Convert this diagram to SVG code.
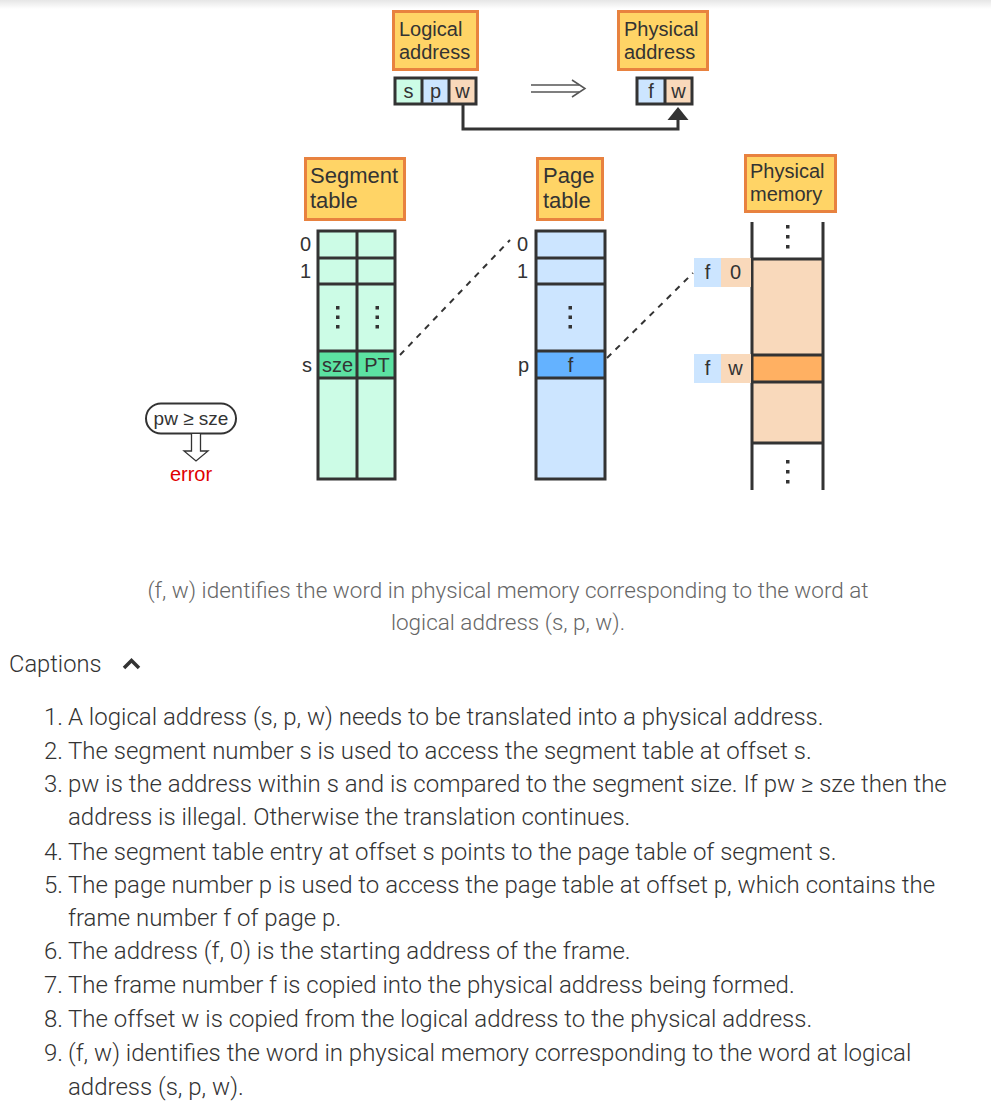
<svg xmlns="http://www.w3.org/2000/svg" width="991" height="1105" viewBox="0 0 991 1105">
<style>
.lbl{fill:#FFD466;stroke:#E8823F;stroke-width:3}
.t{font-family:"Liberation Sans",Arial,sans-serif;fill:#333}
.t20{font-size:20px}
.t22{font-size:22px}
.cell{stroke:#333;stroke-width:3}
.ln{stroke:#333;stroke-width:3;fill:none}
.dash{stroke:#333;stroke-width:2;stroke-dasharray:6 6;fill:none}
.dot{fill:#333}
.cap{font-family:Roboto,"Liberation Sans",sans-serif;font-weight:300;font-size:22.5px;fill:#666}
.li{font-family:Roboto,"Liberation Sans",sans-serif;font-weight:300;font-size:24px;fill:#333}
</style>
<defs>
<linearGradient id="sh" x1="0" y1="0" x2="0" y2="1">
<stop offset="0" stop-color="#e6e6e6"/>
<stop offset="1" stop-color="#ffffff"/>
</linearGradient>
</defs>
<rect x="0" y="0" width="991" height="1105" fill="#fff"/>
<rect x="0" y="0" width="991" height="9" fill="url(#sh)"/>

<g id="logical-address">
<rect class="lbl" x="393.5" y="11.5" width="84" height="58"/>
<text class="t t20" x="399" y="36">Logical</text>
<text class="t t20" x="399" y="59">address</text>
<rect x="395" y="78" width="27" height="26" fill="#CCFCE6"/>
<rect x="422" y="78" width="27" height="26" fill="#CCE5FF"/>
<rect x="449" y="78" width="27" height="26" fill="#F9D9BB"/>
<rect x="395" y="78" width="81" height="26" fill="none" class="cell"/>
<line x1="422" y1="78" x2="422" y2="104" class="cell"/>
<line x1="449" y1="78" x2="449" y2="104" class="cell"/>
<text class="t t20" x="408.5" y="98" text-anchor="middle">s</text>
<text class="t t20" x="435.5" y="98" text-anchor="middle">p</text>
<text class="t t20" x="462.5" y="98" text-anchor="middle">w</text>
</g>

<g id="physical-address">
<rect class="lbl" x="618.5" y="11.5" width="89" height="58"/>
<text class="t t20" x="624" y="36">Physical</text>
<text class="t t20" x="624" y="59">address</text>
<rect x="637" y="78" width="28" height="26" fill="#CCE5FF"/>
<rect x="665" y="78" width="27" height="26" fill="#F9D9BB"/>
<rect x="637" y="78" width="55" height="26" fill="none" class="cell"/>
<line x1="665" y1="78" x2="665" y2="104" class="cell"/>
<text class="t t20" x="651" y="98" text-anchor="middle">f</text>
<text class="t t20" x="678.5" y="98" text-anchor="middle">w</text>
</g>

<g id="segment-table">
<rect class="lbl" x="305.5" y="158.5" width="99" height="61"/>
<text class="t t22" x="310" y="183">Segment</text>
<text class="t t22" x="310" y="208">table</text>
<rect x="318" y="231" width="77" height="248" fill="#CCFCE6"/>
<rect x="318" y="351" width="77" height="27" fill="#5CE2A2"/>
<rect x="318" y="231" width="77" height="248" fill="none" class="cell"/>
<line x1="357" y1="231" x2="357" y2="479" class="cell"/>
<line x1="318" y1="258" x2="395" y2="258" class="cell"/>
<line x1="318" y1="284" x2="395" y2="284" class="cell"/>
<line x1="318" y1="351" x2="395" y2="351" class="cell"/>
<line x1="318" y1="378" x2="395" y2="378" class="cell"/>
<rect class="dot" x="336" y="306" width="3.5" height="3.5"/>
<rect class="dot" x="336" y="315.5" width="3.5" height="3.5"/>
<rect class="dot" x="336" y="325" width="3.5" height="3.5"/>
<rect class="dot" x="375.5" y="306" width="3.5" height="3.5"/>
<rect class="dot" x="375.5" y="315.5" width="3.5" height="3.5"/>
<rect class="dot" x="375.5" y="325" width="3.5" height="3.5"/>
<text class="t t20" x="311" y="251" text-anchor="end">0</text>
<text class="t t20" x="311" y="278" text-anchor="end">1</text>
<text class="t t20" x="312" y="372" text-anchor="end">s</text>
<text class="t t20" x="337.5" y="372" text-anchor="middle">sze</text>
<text class="t t20" x="377" y="372" text-anchor="middle">PT</text>
</g>

<g id="page-table">
<rect class="lbl" x="537.5" y="158.5" width="65" height="61"/>
<text class="t t22" x="543" y="183">Page</text>
<text class="t t22" x="543" y="208">table</text>
<rect x="536" y="231" width="69" height="248" fill="#CCE5FF"/>
<rect x="536" y="351" width="69" height="27" fill="#64B2FF"/>
<rect x="536" y="231" width="69" height="248" fill="none" class="cell"/>
<line x1="536" y1="258" x2="605" y2="258" class="cell"/>
<line x1="536" y1="284" x2="605" y2="284" class="cell"/>
<line x1="536" y1="351" x2="605" y2="351" class="cell"/>
<line x1="536" y1="378" x2="605" y2="378" class="cell"/>
<rect class="dot" x="568.5" y="306" width="3.5" height="3.5"/>
<rect class="dot" x="568.5" y="315.5" width="3.5" height="3.5"/>
<rect class="dot" x="568.5" y="325" width="3.5" height="3.5"/>
<text class="t t20" x="528" y="251" text-anchor="end">0</text>
<text class="t t20" x="528" y="278" text-anchor="end">1</text>
<text class="t t20" x="529" y="372" text-anchor="end">p</text>
<text class="t t20" x="570.5" y="372" text-anchor="middle">f</text>
</g>

<g id="physical-memory">
<rect class="lbl" x="745.5" y="155.5" width="90" height="56"/>
<text class="t t20" x="750" y="178">Physical</text>
<text class="t t20" x="750" y="201">memory</text>
<rect x="752" y="259" width="71" height="184" fill="#F9D9BB"/>
<rect x="752" y="355" width="71" height="27" fill="#FFB062"/>
<line x1="752" y1="222" x2="752" y2="490" class="cell"/>
<line x1="823" y1="222" x2="823" y2="490" class="cell"/>
<line x1="752" y1="259" x2="823" y2="259" class="cell"/>
<line x1="752" y1="355" x2="823" y2="355" class="cell"/>
<line x1="752" y1="382" x2="823" y2="382" class="cell"/>
<line x1="752" y1="443" x2="823" y2="443" class="cell"/>
<rect class="dot" x="786" y="225" width="3.5" height="3.5"/>
<rect class="dot" x="786" y="235" width="3.5" height="3.5"/>
<rect class="dot" x="786" y="245" width="3.5" height="3.5"/>
<rect class="dot" x="786" y="460" width="3.5" height="3.5"/>
<rect class="dot" x="786" y="470" width="3.5" height="3.5"/>
<rect class="dot" x="786" y="480" width="3.5" height="3.5"/>
<rect x="694" y="258" width="27" height="29" fill="#CCE5FF"/>
<rect x="721" y="258" width="30" height="29" fill="#F9D9BB"/>
<text class="t t20" x="707.5" y="279" text-anchor="middle">f</text>
<text class="t t20" x="735.5" y="279" text-anchor="middle">0</text>
<rect x="694" y="354" width="27" height="29" fill="#CCE5FF"/>
<rect x="721" y="354" width="30" height="29" fill="#F9D9BB"/>
<text class="t t20" x="707.5" y="375" text-anchor="middle">f</text>
<text class="t t20" x="735.5" y="375" text-anchor="middle">w</text>
</g>

<g id="check">
<rect x="146" y="403.5" width="90" height="30" rx="15" ry="15" fill="#fff" stroke="#333" stroke-width="2"/>
<text class="t" x="191" y="425" text-anchor="middle" font-size="19">pw ≥ sze</text>
<path d="M191.5,434 V451 H184 L196,461 L208,451 H200.5 V434" fill="#fff" stroke="#333" stroke-width="1.3"/>
<text class="t t20" x="191" y="481" text-anchor="middle" style="fill:#E00000">error</text>
</g>

<g id="connectors">
<polyline class="ln" points="463,104 463,129 678,129 678,119"/>
<path d="M667.5,120 L678,107 L688.5,120 Z" fill="#333"/>
<g stroke="#555" stroke-width="1.5" fill="none">
<line x1="531" y1="85" x2="579" y2="85"/>
<line x1="531" y1="92" x2="579" y2="92"/>
<path d="M572,80 L585,88.5 L572,97"/>
</g>
<line class="dash" x1="400" y1="355" x2="510" y2="240"/>
<line class="dash" x1="607" y1="358" x2="693" y2="273"/>
</g>

<g id="caption">
<text class="cap" x="508" y="598" text-anchor="middle">(f, w) identifies the word in physical memory corresponding to the word at</text>
<text class="cap" x="508" y="630" text-anchor="middle">logical address (s, p, w).</text>
<text class="cap" x="9" y="672" style="fill:#333;font-size:23.7px">Captions</text>
<polyline points="124,668 131.5,660.5 139,668" fill="none" stroke="#333" stroke-width="3.5"/>
</g>

<g id="captions-list">
<text class="li" x="44" y="725">1.</text><text class="li" x="68" y="725">A logical address (s, p, w) needs to be translated into a physical address.</text>
<text class="li" x="44" y="759">2.</text><text class="li" x="68" y="759">The segment number s is used to access the segment table at offset s.</text>
<text class="li" x="44" y="792">3.</text><text class="li" x="68" y="792">pw is the address within s and is compared to the segment size. If pw ≥ sze then the</text>
<text class="li" x="68" y="825">address is illegal. Otherwise the translation continues.</text>
<text class="li" x="44" y="860">4.</text><text class="li" x="68" y="860">The segment table entry at offset s points to the page table of segment s.</text>
<text class="li" x="44" y="893">5.</text><text class="li" x="68" y="893">The page number p is used to access the page table at offset p, which contains the</text>
<text class="li" x="68" y="926">frame number f of page p.</text>
<text class="li" x="44" y="959">6.</text><text class="li" x="68" y="959">The address (f, 0) is the starting address of the frame.</text>
<text class="li" x="44" y="993">7.</text><text class="li" x="68" y="993">The frame number f is copied into the physical address being formed.</text>
<text class="li" x="44" y="1027">8.</text><text class="li" x="68" y="1027">The offset w is copied from the logical address to the physical address.</text>
<text class="li" x="44" y="1061">9.</text><text class="li" x="68" y="1061">(f, w) identifies the word in physical memory corresponding to the word at logical</text>
<text class="li" x="68" y="1095">address (s, p, w).</text>
</g>
</svg>
